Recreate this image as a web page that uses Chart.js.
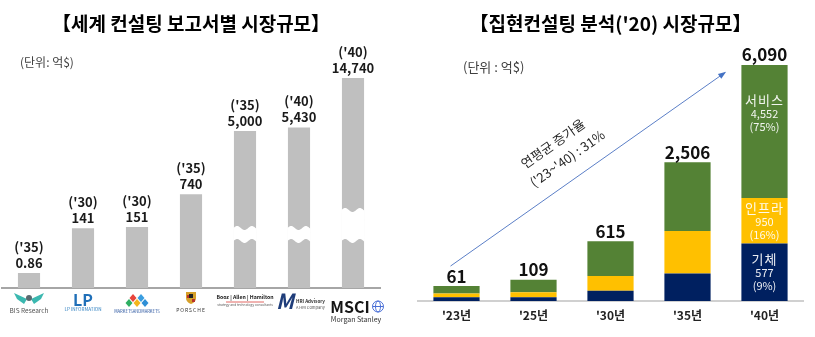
<!DOCTYPE html>
<html>
<head>
<meta charset="utf-8">
<script src="https://cdn.jsdelivr.net/npm/chart.js@4.4.0/dist/chart.umd.min.js"></script>
<style>
  html, body { margin: 0; padding: 0; background: #fff; }
  #wrap { position: relative; width: 815px; height: 337px; overflow: hidden; }
  #c1 { position: absolute; left: 0; top: 0; }
  #c2 { position: absolute; left: 410px; top: 0; }
</style>
</head>
<body>
<div id="wrap">
  <canvas id="c1" width="410" height="337"></canvas>
  <canvas id="c2" width="405" height="337"></canvas>
</div>
<script>
// ---- market size by consulting report (억$) ----
const publishers = ['BIS Research', 'LP Information', 'MarketsandMarkets', 'Porsche', 'Booz Allen Hamilton', 'HRI Advisory', 'MSCI'];
const targetYears = ["('35)", "('30)", "('30)", "('35)", "('35)", "('40)", "('40)"];
const marketSize = [0.86, 141, 151, 740, 5000, 5430, 14740];

// ---- in-house forecast by segment (억$) ----
const years = ["'23년", "'25년", "'30년", "'35년", "'40년"];
const totals = [61, 109, 615, 2506, 6090];
const airframe = [6, 6, 32, 170, 577];        // 기체
const infra = [13, 19, 113, 630, 950];        // 인프라
const services = [42, 84, 470, 1706, 4552];   // 서비스

const FONT = "'Noto Sans CJK KR', 'Noto Sans', sans-serif";

// Power scale: value axis that compresses large values (v^k)
class PowerScale extends Chart.LinearScale {
  _k() { return this.options.exponent || 0.5; }
  getPixelForValue(value) {
    const k = this._k();
    const lo = Math.pow(Math.max(this.min, 0), k);
    const hi = Math.pow(this.max, k);
    const v = Math.pow(Math.max(+value || 0, 0), k);
    return this.getPixelForDecimal((v - lo) / (hi - lo));
  }
  getValueForPixel(pixel) {
    const k = this._k();
    const lo = Math.pow(Math.max(this.min, 0), k);
    const hi = Math.pow(this.max, k);
    return Math.pow(lo + this.getDecimalForPixel(pixel) * (hi - lo), 1 / k);
  }
}
PowerScale.id = 'power';
PowerScale.defaults = Chart.LinearScale.defaults;
Chart.register(PowerScale);

const titleOpts = (text) => ({
  display: true,
  text,
  color: '#000',
  font: { family: FONT, size: 19, weight: 'bold' },
  padding: { top: 12, bottom: 13 }
});

// ---------- left chart plugins ----------
const axisBreaks = {
  id: 'axisBreaks',
  bands: [
    { index: 4, from: 47, to: 60 },
    { index: 5, from: 47, to: 60 },
    { index: 6, from: 47, to: 78 }
  ],
  afterDatasetsDraw(chart) {
    const { ctx, chartArea } = chart;
    const meta = chart.getDatasetMeta(0);
    ctx.save();
    ctx.fillStyle = '#fff';
    this.bands.forEach(({ index, from, to }) => {
      const bar = meta.data[index];
      const w = bar.width;
      const x0 = bar.x - w / 2 - 0.5, x1 = bar.x + w / 2 + 0.5;
      const yLow = chartArea.bottom - from, yHigh = chartArea.bottom - to;
      const wave = (x, y0) => y0 - 2 * Math.sin((x - x0) / w * Math.PI * 3);
      ctx.beginPath();
      ctx.moveTo(x0, wave(x0, yHigh));
      for (let x = x0; x <= x1; x += 0.5) ctx.lineTo(x, wave(x, yHigh));
      for (let x = x1; x >= x0; x -= 0.5) ctx.lineTo(x, wave(x, yLow));
      ctx.closePath();
      ctx.fill();
    });
    ctx.restore();
  }
};

const reportLabels = {
  id: 'reportLabels',
  afterDatasetsDraw(chart) {
    const { ctx } = chart;
    const meta = chart.getDatasetMeta(0);
    ctx.save();
    ctx.textAlign = 'center';
    ctx.textBaseline = 'middle';
    ctx.fillStyle = '#1a1a1a';
    ctx.font = `600 13px ${FONT}`;
    meta.data.forEach((bar, i) => {
      ctx.fillText(marketSize[i].toLocaleString('en-US'), bar.x, bar.y - 10);
      ctx.fillText(targetYears[i], bar.x, bar.y - 26);
    });
    ctx.restore();
  }
};

const unitNote = {
  id: 'unitNote',
  afterDraw(chart, args, opts) {
    const { ctx } = chart;
    ctx.save();
    ctx.font = `${opts.size}px ${FONT}`;
    ctx.fillStyle = '#404040';
    ctx.textAlign = 'left';
    ctx.textBaseline = 'middle';
    ctx.fillText(opts.text, opts.x, opts.y);
    ctx.restore();
  }
};

// publisher marks drawn under each bar
const publisherLogos = {
  id: 'publisherLogos',
  afterDraw(chart) {
    const { ctx, chartArea, scales: { x } } = chart;
    const b = chartArea.bottom;
    ctx.save();
    ctx.textAlign = 'center';
    ctx.textBaseline = 'middle';
    chart.data.labels.forEach((name, i) => {
      const cx = x.getPixelForValue(i);
      if (name === 'BIS Research') {
        ctx.fillStyle = '#3bb8b0';
        [-1, 1].forEach(s => {
          ctx.beginPath();
          ctx.moveTo(cx + s * 2, b + 11);
          ctx.lineTo(cx + s * 15, b + 5);
          ctx.lineTo(cx + s * 12, b + 11);
          ctx.lineTo(cx + s * 5, b + 16);
          ctx.closePath();
          ctx.fill();
        });
        ctx.fillStyle = '#5a6a70';
        ctx.beginPath(); ctx.arc(cx, b + 10, 3, 0, Math.PI * 2); ctx.fill();
        ctx.font = `6.5px ${FONT}`;
        ctx.fillStyle = '#555';
        ctx.fillText('BIS Research', cx, b + 22.5);
      } else if (name === 'LP Information') {
        ctx.font = `bold 16px ${FONT}`;
        ctx.fillStyle = '#1f6fb8';
        ctx.fillText('LP', cx, b + 12);
        ctx.font = `4.6px ${FONT}`;
        ctx.fillStyle = '#2d7fc0';
        ctx.fillText('LP INFORMATION', cx, b + 21.5);
      } else if (name === 'MarketsandMarkets') {
        const dia = (dx, dy, c) => {
          ctx.fillStyle = c;
          ctx.beginPath();
          ctx.moveTo(cx + dx, b + dy - 4);
          ctx.lineTo(cx + dx + 3.5, b + dy);
          ctx.lineTo(cx + dx, b + dy + 4);
          ctx.lineTo(cx + dx - 3.5, b + dy);
          ctx.closePath();
          ctx.fill();
        };
        dia(-4, 10, '#e8453c'); dia(4, 10, '#3a9ee0');
        dia(-8, 15, '#2eaf62'); dia(0, 15, '#f4b51c'); dia(8, 15, '#2f8fd6');
        ctx.font = `4.2px ${FONT}`;
        ctx.fillStyle = '#2b56a0';
        ctx.fillText('MARKETSANDMARKETS', cx, b + 23);
      } else if (name === 'Porsche') {
        ctx.fillStyle = '#d6a02a';
        ctx.beginPath();
        ctx.moveTo(cx - 5, b + 4); ctx.lineTo(cx + 5, b + 4);
        ctx.lineTo(cx + 5, b + 10); ctx.quadraticCurveTo(cx + 5, b + 14, cx, b + 16);
        ctx.quadraticCurveTo(cx - 5, b + 14, cx - 5, b + 10);
        ctx.closePath(); ctx.fill();
        ctx.fillStyle = '#b8322a';
        ctx.fillRect(cx - 4, b + 7, 3, 3); ctx.fillRect(cx + 1, b + 11, 3, 3);
        ctx.fillStyle = '#222';
        ctx.fillRect(cx - 2, b + 6, 4, 4);
        ctx.font = `5px ${FONT}`;
        ctx.fillStyle = '#333';
        ctx.letterSpacing = '1px';
        ctx.fillText('PORSCHE', cx, b + 22);
        ctx.letterSpacing = '0px';
      } else if (name === 'Booz Allen Hamilton') {
        ctx.font = `bold 5.2px ${FONT}`;
        ctx.fillStyle = '#222';
        ctx.fillText('Booz | Allen | Hamilton', cx, b + 9.5);
        ctx.strokeStyle = '#d9403a';
        ctx.lineWidth = 0.8;
        ctx.beginPath(); ctx.moveTo(cx - 19, b + 14); ctx.lineTo(cx + 19, b + 14); ctx.stroke();
        ctx.font = `3.3px ${FONT}`;
        ctx.fillStyle = '#555';
        ctx.fillText('strategy and technology consultants', cx, b + 17);
      } else if (name === 'HRI Advisory') {
        ctx.font = `italic bold 21px ${FONT}`;
        ctx.fillStyle = '#1f3d7a';
        ctx.fillText('M', cx - 14, b + 13);
        ctx.textAlign = 'left';
        ctx.font = `bold 4.6px ${FONT}`;
        ctx.fillStyle = '#333';
        ctx.fillText('HRI Advisory', cx - 3, b + 13);
        ctx.font = `4px ${FONT}`;
        ctx.fillStyle = '#555';
        ctx.fillText('A HRI Company', cx - 3, b + 19);
        ctx.textAlign = 'center';
      } else if (name === 'MSCI') {
        ctx.font = `bold 16px ${FONT}`;
        ctx.fillStyle = '#151515';
        ctx.fillText('MSCI', cx - 3, b + 18.5);
        ctx.strokeStyle = '#4a6fd6';
        ctx.lineWidth = 1;
        ctx.beginPath(); ctx.arc(cx + 25, b + 18.5, 5.5, 0, Math.PI * 2); ctx.stroke();
        ctx.beginPath(); ctx.ellipse(cx + 25, b + 18.5, 2.5, 5.5, 0, 0, Math.PI * 2); ctx.stroke();
        ctx.beginPath(); ctx.moveTo(cx + 19.5, b + 18.5); ctx.lineTo(cx + 30.5, b + 18.5); ctx.stroke();
        ctx.font = `7px ${FONT}`;
        ctx.fillStyle = '#333';
        ctx.fillText('Morgan Stanley', cx + 3, b + 31.5);
      }
    });
    ctx.restore();
  }
};

new Chart(document.getElementById('c1'), {
  type: 'bar',
  data: {
    labels: publishers,
    datasets: [{
      data: marketSize,
      backgroundColor: '#BFBFBF',
      barPercentage: 1,
      categoryPercentage: 0.41
    }]
  },
  options: {
    responsive: false,
    animation: false,
    layout: { padding: { left: 2, right: 30, top: 0, bottom: 0 } },
    plugins: {
      legend: { display: false },
      tooltip: { enabled: false },
      title: titleOpts('【세계 컨설팅 보고서별 시장규모】'),
      unitNote: { text: '(단위: 억$)', x: 20, y: 62, size: 12 }
    },
    scales: {
      x: {
        grid: { display: false, drawTicks: false },
        border: { display: true, color: '#A6A6A6', width: 2 },
        ticks: { display: false },
        afterFit(s) { s.height = 49; }
      },
      y: { type: 'power', exponent: 0.27, min: 0, max: 24200, display: false }
    }
  },
  plugins: [axisBreaks, reportLabels, unitNote, publisherLogos]
});

// ---------- right chart plugins ----------
const stackTotals = {
  id: 'stackTotals',
  afterDatasetsDraw(chart) {
    const { ctx } = chart;
    const top = chart.getDatasetMeta(chart.data.datasets.length - 1);
    ctx.save();
    ctx.textAlign = 'center';
    ctx.textBaseline = 'middle';
    ctx.fillStyle = '#111';
    ctx.font = `bold 17px ${FONT}`;
    top.data.forEach((bar, i) => {
      ctx.fillText(totals[i].toLocaleString('en-US'), bar.x, bar.y - 10);
    });
    ctx.restore();
  }
};

const segmentNotes = {
  id: 'segmentNotes',
  afterDatasetsDraw(chart) {
    const { ctx } = chart;
    const idx = chart.data.labels.length - 1;
    const sum = chart.data.datasets.reduce((s, d) => s + d.data[idx], 0);
    ctx.save();
    ctx.textAlign = 'center';
    ctx.textBaseline = 'middle';
    chart.data.datasets.forEach((ds, di) => {
      const bar = chart.getDatasetMeta(di).data[idx];
      const segTop = bar.y, segH = bar.base - bar.y;
      const cy = segTop + Math.min(segH / 2, 48);
      const v = ds.data[idx];
      ctx.fillStyle = 'rgba(255,255,255,0.92)';
      ctx.font = `13px ${FONT}`;
      ctx.letterSpacing = '1px';
      ctx.fillText(ds.label, bar.x, cy - 13);
      ctx.letterSpacing = '0px';
      ctx.font = `11px ${FONT}`;
      ctx.fillText(v.toLocaleString('en-US'), bar.x, cy + 1);
      ctx.fillText('(' + Math.round(v / sum * 100) + '%)', bar.x, cy + 14);
    });
    ctx.restore();
  }
};

const growthArrow = {
  id: 'growthArrow',
  afterDraw(chart) {
    const { ctx, scales: { x } } = chart;
    const top = chart.getDatasetMeta(chart.data.datasets.length - 1).data;
    const last = top.length - 1;
    const sx = x.getPixelForValue(0) - 6, sy = top[0].y - 20;
    const ex = x.getPixelForValue(last) - 40, ey = top[last].y + 8;
    const ang = Math.atan2(ey - sy, ex - sx);
    ctx.save();
    ctx.strokeStyle = '#5b7fc7';
    ctx.fillStyle = '#4472C4';
    ctx.lineWidth = 1;
    ctx.beginPath(); ctx.moveTo(sx, sy); ctx.lineTo(ex, ey); ctx.stroke();
    ctx.translate(ex, ey);
    ctx.rotate(ang);
    ctx.beginPath(); ctx.moveTo(2, 0); ctx.lineTo(-6, -3); ctx.lineTo(-6, 3); ctx.closePath(); ctx.fill();
    ctx.restore();

    // label along the arrow
    const t = 0.46;
    const mx = sx + (ex - sx) * t, my = sy + (ey - sy) * t;
    const px = Math.sin(ang), py = -Math.cos(ang); // normal pointing up-left
    ctx.save();
    ctx.fillStyle = '#262626';
    ctx.textAlign = 'center';
    ctx.textBaseline = 'middle';
    ctx.font = `13px ${FONT}`;
    [['연평균 증가율', 41], ["('23~'40) : 31%", 23]].forEach(([txt, off], k) => {
      ctx.save();
      ctx.translate(mx + px * off + k * 4, my + py * off);
      ctx.rotate(ang);
      ctx.fillText(txt, 0, 0);
      ctx.restore();
    });
    ctx.restore();
  }
};

new Chart(document.getElementById('c2'), {
  type: 'bar',
  data: {
    labels: years,
    datasets: [
      { label: '기체', data: airframe, backgroundColor: '#002060' },
      { label: '인프라', data: infra, backgroundColor: '#FFC000' },
      { label: '서비스', data: services, backgroundColor: '#548235' }
    ]
  },
  options: {
    responsive: false,
    animation: false,
    datasets: { bar: { barPercentage: 1, categoryPercentage: 0.6 } },
    layout: { padding: { left: 8, right: 12, top: 0, bottom: 0 } },
    plugins: {
      legend: { display: false },
      tooltip: { enabled: false },
      title: titleOpts("【집현컨설팅 분석('20) 시장규모】"),
      unitNote: { text: '(단위 : 억$)', x: 53, y: 67, size: 13 }
    },
    scales: {
      x: {
        stacked: true,
        grid: { display: false, drawTicks: false },
        border: { display: true, color: '#D0D0D0', width: 2 },
        ticks: { color: '#222', padding: 7, font: { family: FONT, size: 12, weight: 'bold' } },
        afterFit(s) { s.height = 36; }
      },
      y: { type: 'power', exponent: 0.6, stacked: true, min: 0, max: 6830, display: false }
    }
  },
  plugins: [stackTotals, segmentNotes, growthArrow, unitNote]
});
</script>
</body>
</html>
